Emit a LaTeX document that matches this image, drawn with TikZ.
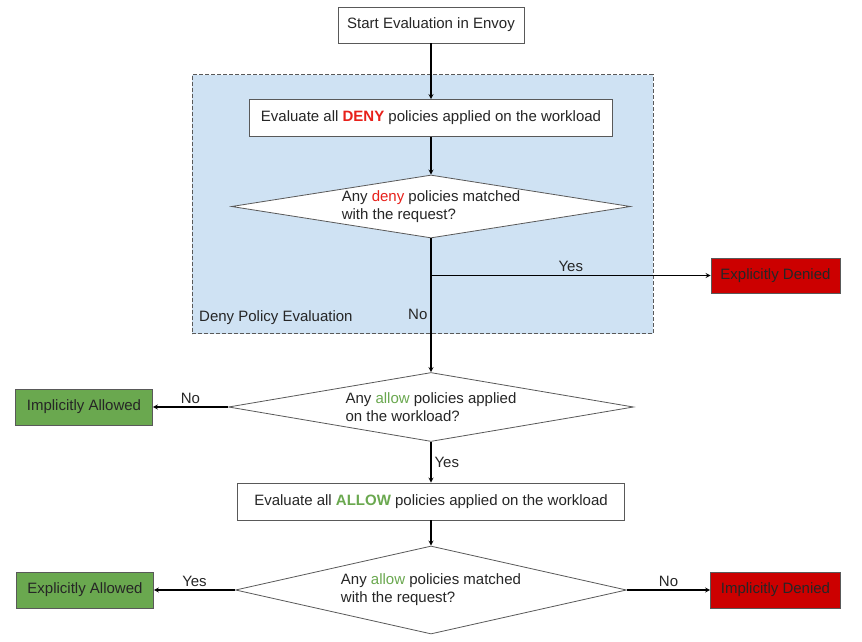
\documentclass[tikz,border=0pt]{standalone}
\usepackage{fontspec}
\setmainfont{Liberation Sans}
\usetikzlibrary{shapes.geometric, arrows, calc}
\definecolor{zone-blue}{HTML}{CFE2F3}
\definecolor{deny-red}{HTML}{CC0000}
\definecolor{deny-text}{HTML}{E8201A}
\definecolor{allow-green}{HTML}{6AA84F}
\definecolor{edge-gray}{HTML}{595959}
\tikzstyle{proc-box} = [rectangle, draw=edge-gray, line width=0.8pt, fill=white, minimum height=37pt, text centered]
\tikzstyle{decision} = [diamond, draw=edge-gray, line width=0.8pt, fill=white, inner sep=0pt, align=left]
\tikzstyle{deny-end} = [rectangle, draw=edge-gray, line width=0.8pt, fill=deny-red, minimum width=129pt, minimum height=35pt, text=black!85]
\tikzstyle{allow-end} = [rectangle, draw=edge-gray, line width=0.8pt, fill=allow-green, minimum width=137pt, minimum height=36pt, text=black!85]
\tikzstyle{arrow} = [line width=1.2pt,->,>=stealth]
\tikzstyle{edge-label} = [inner sep=3pt, text=black!85]

\begin{document}
\begin{tikzpicture}[x=1pt, y=1pt, font=\fontsize{15}{18}\selectfont, text=black!85]
\useasboundingbox (0,0) rectangle (862,641);

% Deny zone
\node (deny-zone) [rectangle, draw=edge-gray, dash pattern=on 4pt off 2pt, line width=0.9pt, fill=zone-blue, minimum width=461pt, minimum height=259pt, anchor=south west] at (192,307) {};
\node (zone-label) [anchor=west, inner sep=0pt] at (199,323) {Deny Policy Evaluation};

\node (start) [proc-box, minimum width=186pt, minimum height=36pt] at (431,616) {Start Evaluation in Envoy};
\node (eval-deny) [proc-box, minimum width=363pt, below of=start, node distance=93pt] {Evaluate all \textcolor{deny-text}{\textbf{DENY}} policies applied on the workload};
\node (deny-match) [decision, aspect=6.3, minimum width=399pt, minimum height=63pt, below of=eval-deny, node distance=88.5pt] {Any \textcolor{deny-text}{deny} policies matched\\with the request?};
\node (exp-denied) [deny-end] at (775.5,365.5) {Explicitly Denied};

% Allow stage
\node (allow-any) [decision, aspect=5.9, minimum width=405pt, minimum height=69pt, below of=deny-match, node distance=200.5pt] {Any \textcolor{allow-green}{allow} policies applied\\on the workload?};
\node (imp-allowed) [allow-end, left of=allow-any, node distance=347pt] {Implicitly Allowed};
\node (eval-allow) [proc-box, minimum width=387pt, below of=allow-any, node distance=94.5pt] {Evaluate all \textcolor{allow-green}{\textbf{ALLOW}} policies applied on the workload};
\node (allow-match) [decision, aspect=4.4, minimum width=391pt, minimum height=88pt, below of=eval-allow, node distance=88.5pt] {Any \textcolor{allow-green}{allow} policies matched\\with the request?};
\node (exp-allowed) [allow-end, left of=allow-match, node distance=346pt] {Explicitly Allowed};
\node (imp-denied) [deny-end, minimum width=130pt, minimum height=36pt, right of=allow-match, node distance=344.5pt] {Implicitly Denied};

\coordinate (fork) at (deny-match.south |- exp-denied.west);

\draw [arrow] (start) -- (eval-deny);
\draw [arrow] (eval-deny) -- (deny-match);
\draw [arrow] (fork) -- node[edge-label, above] {Yes} (exp-denied);
\draw [arrow] (deny-match.south) -- node[edge-label, left, pos=0.57] {No} (allow-any.north);
\draw [arrow] (allow-any.west) -- node[edge-label, above] {No} (imp-allowed);
\draw [arrow] (allow-any.south) -- node[edge-label, right] {Yes} (eval-allow);
\draw [arrow] (eval-allow) -- (allow-match);
\draw [arrow] (allow-match.west) -- node[edge-label, above] {Yes} (exp-allowed);
\draw [arrow] (allow-match.east) -- node[edge-label, above] {No} (imp-denied);

\end{tikzpicture}
\end{document}
